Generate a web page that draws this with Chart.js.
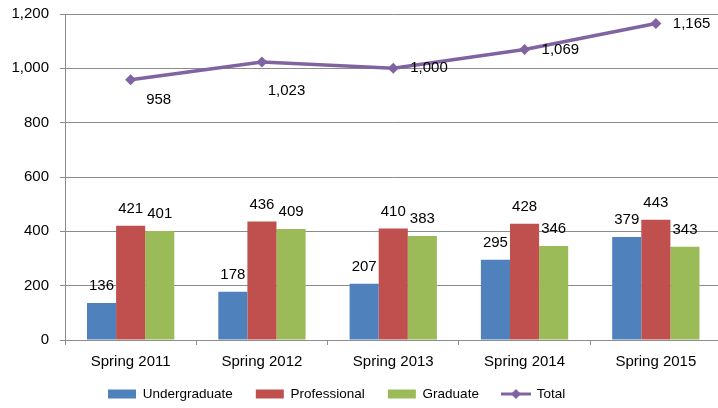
<!DOCTYPE html>
<html><head><meta charset="utf-8">
<style>html,body{margin:0;padding:0;overflow:hidden;background:#fff;width:718px;height:408px}
#wrap{width:727px;height:408px}</style>
<script src="https://cdn.jsdelivr.net/npm/chart.js@4"></script>
</head><body><div id="wrap"><canvas id="c" width="727" height="408"></canvas></div>
<script>
const categories = ['Spring 2011','Spring 2012','Spring 2013','Spring 2014','Spring 2015'];
const undergraduate = [136,178,207,295,379];
const professional = [421,436,410,428,443];
const graduate = [401,409,383,346,343];
const total = [958,1023,1000,1069,1165];
const yTicks = [0,200,400,600,800,1000,1200];

const BLUE = '#4F81BD', RED = '#C0504D', GREEN = '#9BBB59', PURPLE = '#8064A2';
const GRID = '#8c8c8c';
const FONT = '"Liberation Sans", Arial, sans-serif';

// legend marker for the line series
const mk = document.createElement('canvas'); mk.width = 30; mk.height = 12;
(function(){
  const g = mk.getContext('2d');
  g.strokeStyle = PURPLE; g.lineWidth = 3;
  g.beginPath(); g.moveTo(0,6); g.lineTo(30,6); g.stroke();
  g.fillStyle = PURPLE; g.beginPath();
  g.moveTo(15,1); g.lineTo(20,6); g.lineTo(15,11); g.lineTo(10,6); g.closePath(); g.fill();
})();

const valueLabels = {
  id: 'valueLabels',
  afterDatasetsDraw(chart, args, opts) {
    const ctx = chart.ctx;
    ctx.save();
    ctx.font = '15px ' + FONT;
    ctx.fillStyle = '#000';
    ctx.textBaseline = 'middle';
    chart.data.datasets.forEach((ds, i) => {
      const meta = chart.getDatasetMeta(i);
      meta.data.forEach((el, j) => {
        const txt = ds.data[j].toLocaleString('en-US');
        if (ds.type === 'line') {
          const o = opts.lineOffsets[j];
          ctx.textAlign = o[2];
          ctx.fillText(txt, el.x + o[0], el.y + o[1]);
        } else {
          ctx.textAlign = 'center';
          ctx.fillText(txt, el.x, el.y - opts.barGap);
        }
      });
    });
    ctx.restore();
  }
};

const legendPlace = {
  id: 'legendPlace',
  afterLayout(chart, args, opts) {
    const lg = chart.legend;
    if (!lg) return;
    const lo = lg.options.labels;
    const pad = lo.padding;
    const ih = Math.max(lo.font.size, lo.boxHeight);
    const dx = opts.x - (lg.left + pad);
    lg.left += dx; lg.right += dx;
    const dy = opts.y - (lg.top + pad + ih / 2);
    lg.top += dy; lg.bottom += dy;
  }
};

new Chart(document.getElementById('c'), {
  type: 'bar',
  data: {
    labels: categories,
    datasets: [
      { label: 'Undergraduate', data: undergraduate, backgroundColor: BLUE, order: 1 },
      { label: 'Professional', data: professional, backgroundColor: RED, order: 1 },
      { label: 'Graduate', data: graduate, backgroundColor: GREEN, order: 1 },
      { label: 'Total', type: 'line', data: total, borderColor: PURPLE, backgroundColor: PURPLE,
        borderWidth: 3.5, pointStyle: 'rectRot', pointRadius: 5.5, pointBackgroundColor: PURPLE,
        pointBorderColor: PURPLE, pointBorderWidth: 0, tension: 0, order: 0 }
    ]
  },
  options: {
    responsive: false,
    animation: false,
    events: [],
    layout: { padding: { left: 0, right: 0, top: 14, bottom: -18.5 } },
    datasets: { bar: { categoryPercentage: 0.665, barPercentage: 1.0 } },
    scales: {
      x: {
        grid: { offset: true, drawOnChartArea: false, drawTicks: true, tickLength: 5, color: GRID },
        border: { display: true, color: GRID, width: 1 },
        ticks: { font: { family: FONT, size: 15 }, color: '#000', padding: 8 },
        afterFit(scale) { scale.height = 40; }
      },
      y: {
        min: 0, max: 1200,
        afterBuildTicks(scale) { scale.ticks = yTicks.map(v => ({ value: v })); },
        grid: { color: GRID, lineWidth: 1, tickLength: 5, drawTicks: true },
        border: { display: true, color: GRID, width: 1 },
        ticks: { font: { family: FONT, size: 15 }, color: '#000', padding: 11,
                 callback: v => Number(v).toLocaleString('en-US') },
        afterFit(scale) { scale.width = 65; scale.paddingTop = 0; scale.paddingBottom = 0; }
      }
    },
    plugins: {
      tooltip: { enabled: false },
      legend: {
        position: 'bottom',
        align: 'start',
        labels: {
          font: { family: FONT, size: 13.5 },
          color: '#000',
          usePointStyle: true,
          pointStyleWidth: 28,
          boxWidth: 28,
          boxHeight: 9,
          padding: 23,
          sort: (a, b) => a.datasetIndex - b.datasetIndex,
          generateLabels(chart) {
            const items = Chart.defaults.plugins.legend.labels.generateLabels(chart);
            items.forEach(it => {
              const ds = chart.data.datasets[it.datasetIndex];
              if (ds.type === 'line') { it.pointStyle = mk; }
              else { it.pointStyle = 'rect'; it.lineWidth = 0; it.strokeStyle = 'rgba(0,0,0,0)'; }
            });
            return items;
          }
        }
      },
      valueLabels: { barGap: 17, lineOffsets: [[28, 20.5, 'center'], [24.5, 29, 'center'], [17, 0, 'left'], [17, 0, 'left'], [17, 0, 'left']] },
      legendPlace: { x: 108, y: 394 }
    }
  },
  plugins: [valueLabels, legendPlace]
});
</script>
</body></html>
